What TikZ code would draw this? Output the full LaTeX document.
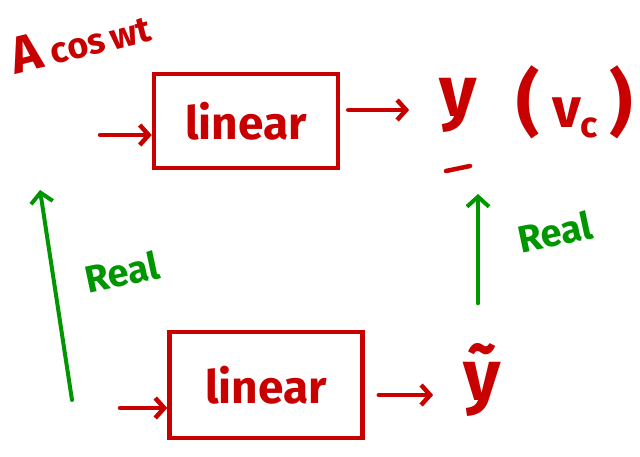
\documentclass[tikz,border=0pt]{standalone}
\usepackage{fontspec}
\setmainfont{Fira Sans}
\usetikzlibrary{positioning,arrows.meta}
\definecolor{inkred}{RGB}{200,0,0}
\definecolor{inkgreen}{RGB}{0,150,0}

\begin{document}
\begin{tikzpicture}[
        x=1pt, y=-1pt,
        ink/.style={draw=inkred, line width=4.5pt, line cap=round},
        blok/.style={ink, minimum width=184pt, minimum height=94pt, text=inkred, font=\fontsize{46}{50}\selectfont\bfseries},
        pijl/.style={ink, -{Straight Barb[length=9pt,width=20pt]}},
        groen/.style={draw=inkgreen, line width=4pt, line cap=round, -{Straight Barb[length=10pt,width=22pt]}},
        lab/.style={text=inkred, inner sep=0pt, font=\bfseries},
        reel/.style={text=inkgreen, font=\fontsize{38}{42}\selectfont\bfseries, rotate=12}
    ]
        \useasboundingbox (0,0) rectangle (640,457);
        % blokken
        \node[blok] (top) at (246,121) {linear};
        \node[blok, minimum width=193pt, minimum height=106pt] (bot) at (266,385) {linear};
        % teksten
        \node[lab, rotate=14] (acos) at (80,40) {\fontsize{52}{56}\selectfont A\,\fontsize{36}{40}\selectfont cos\,wt};
        \node[lab, font=\fontsize{72}{76}\selectfont\bfseries] (ytop) at (458,105) {y};
        \node[lab, font=\fontsize{72}{76}\selectfont\bfseries] (vc) at (575,102) {(\,{\fontsize{56}{60}\selectfont v}{\raisebox{-10pt}{\fontsize{36}{40}\selectfont c}}\,)};
        \node[lab, font=\fontsize{72}{76}\selectfont\bfseries] (ytil) at (482,380) {ỹ};
        \coordinate (ul) at (458,168);
        \draw[ink] ([shift={(-12,3)}]ul) -- ([shift={(12,-2)}]ul);
        % ingangen
        \coordinate (in1) at (100,135);
        \coordinate (in2) at (120,408);
        \draw[pijl] (in1) -- (in1 -| top.west);
        \draw[pijl] (in2) -- (in2 -| bot.west);
        \draw[pijl, shorten <=8pt, shorten >=30pt] (top.east |- 0,110) -- (ytop.west |- 0,110);
        \draw[pijl, shorten <=14pt, shorten >=30pt] (bot.east |- 0,395) -- (ytil.west |- 0,395);
        % reeel deel
        \coordinate (r1) at (72,400);
        \coordinate (r2) at (40,190);
        \draw[groen] (r1) -- (r2);
        \draw[groen, shorten <=40pt, shorten >=26pt] (ytil.north -| 478,0) -- (ul -| 478,0);
        \node[reel] (real1) at (122,272) {Real};
        \node[reel] (real2) at (555,232) {Real};
    \end{tikzpicture}
\end{document}
